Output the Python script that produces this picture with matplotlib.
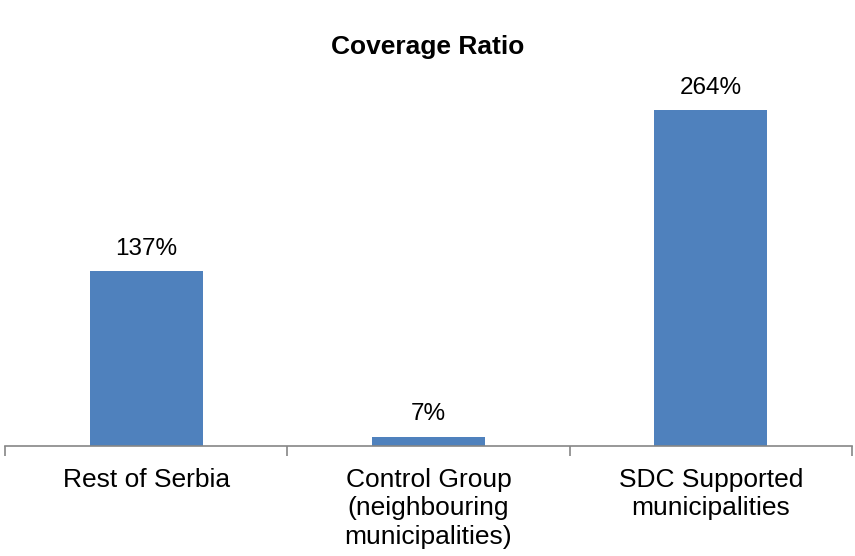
import matplotlib
matplotlib.use("Agg")
import matplotlib.pyplot as plt

categories = ["Rest of Serbia", "Control Group\n(neighbouring\nmunicipalities)", "SDC Supported\nmunicipalities"]
values = [137, 7, 264]
value_labels = ["137%", "7%", "264%"]

plt.rcParams['font.family'] = ['Liberation Sans', 'DejaVu Sans']

fig = plt.figure(figsize=(8.55, 5.56), dpi=100)
ax = fig.add_axes([5/855, 1 - 445.5/556, 847/855, (445.5 - 64)/556])

x = list(range(len(categories)))
bars = ax.bar(x, values, width=0.4, color="#4F81BD", zorder=2)
for xi, v, lab in zip(x, values, value_labels):
    ax.annotate(lab, (xi, v), xytext=(0, 8), textcoords="offset points",
                ha="center", va="bottom", fontsize=17.5, color="black")

ax.set_xlim(-0.5, len(categories) - 0.5)
ax.set_ylim(0, 300)
for s in ["top", "right", "left"]:
    ax.spines[s].set_visible(False)
ax.spines["bottom"].set_color("#868686")
ax.spines["bottom"].set_linewidth(1.2)
ax.set_yticks([])
ax.set_xticks(x)
ax.set_xticklabels(categories, fontsize=19, linespacing=1.25)
ax.tick_params(axis="x", which="major", length=0, pad=16)
ax.set_xticks([i - 0.5 for i in range(len(categories) + 1)], minor=True)
ax.tick_params(axis="x", which="minor", length=7, width=1.2, color="#868686", direction="out")

fig.text(0.5, 1 - 47/556, "Coverage Ratio", ha="center", va="center",
         fontsize=19, fontweight="bold")

fig.savefig("out.png", dpi=100)
